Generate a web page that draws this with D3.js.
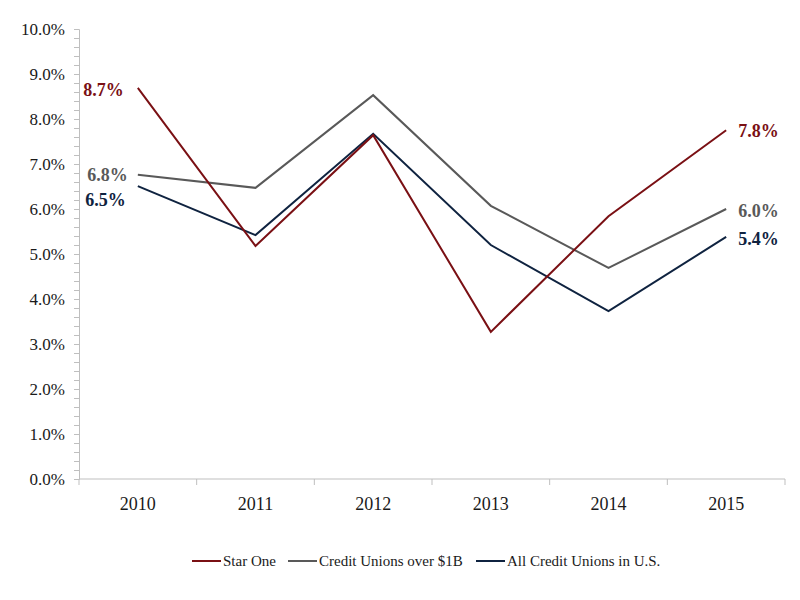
<!DOCTYPE html>
<html lang="en">
<head>
    <meta charset="UTF-8"/>
    <title>Star One vs Credit Unions</title>
    <script src="https://d3js.org/d3.v7.min.js"></script>
    <style>
        body { margin: 0; background: #fff; }
    </style>
</head>
<body>
<div id="chart"></div>
<script>
    // data
    const years = ["2010", "2011", "2012", "2013", "2014", "2015"];
    const starOne = [8.69, 5.18, 7.64, 3.27, 5.84, 7.75];
    const cuOver1B = [6.76, 6.47, 8.53, 6.07, 4.69, 6.0];
    const allCU = [6.51, 5.42, 7.67, 5.2, 3.73, 5.38];
    const seriesNames = ["Star One", "Credit Unions over $1B", "All Credit Unions in U.S."];
    const endLabels = [["8.7%", "7.8%"], ["6.8%", "6.0%"], ["6.5%", "5.4%"]];
    const yTicks = [0, 1, 2, 3, 4, 5, 6, 7, 8, 9, 10];

    const colors = ["#7a1014", "#595959", "#0f2340"];
    const font = "'Liberation Serif', serif";

    const width = 800, height = 600;
    const margin = {top: 29, right: 15, bottom: 121, left: 79};
    const gW = width - margin.left - margin.right;
    const gH = height - margin.top - margin.bottom;

    const svg = d3.select("#chart")
        .append("svg")
        .attr("width", width)
        .attr("height", height);

    const g = svg.append("g").attr("transform", `translate(${margin.left}, ${margin.top})`);

    const x = d3.scaleBand().domain(years).range([0, gW]);
    const y = d3.scaleLinear().domain([0, 10]).range([gH, 0]);

    // Y axis with minor ticks
    const yAxis = g.append("g")
        .call(d3.axisLeft(y).tickValues(d3.range(0, 10.01, 0.2)).tickSize(5).tickFormat(""));
    yAxis.selectAll("line").attr("stroke", "#bfbfbf");
    yAxis.select(".domain").attr("stroke", "#bfbfbf");

    g.append("g").selectAll("text")
        .data(yTicks)
        .join("text")
        .attr("x", -14)
        .attr("y", d => y(d))
        .attr("dy", "0.35em")
        .attr("text-anchor", "end")
        .style("font-family", font)
        .style("font-size", "17px")
        .style("fill", "#1a1a1a")
        .text(d => d.toFixed(1) + "%");

    // X axis, ticks at band edges
    const xAxis = g.append("g").attr("transform", `translate(0, ${gH})`);
    xAxis.append("line").attr("x1", 0).attr("x2", gW).attr("stroke", "#bfbfbf");
    xAxis.selectAll(".tk")
        .data(years.concat(["end"]))
        .join("line")
        .attr("class", "tk")
        .attr("x1", (d, i) => i * x.bandwidth())
        .attr("x2", (d, i) => i * x.bandwidth())
        .attr("y1", 0).attr("y2", 6)
        .attr("stroke", "#bfbfbf");
    xAxis.selectAll("text")
        .data(years)
        .join("text")
        .attr("x", d => x(d) + x.bandwidth() / 2)
        .attr("y", 31)
        .attr("text-anchor", "middle")
        .style("font-family", font)
        .style("font-size", "18px")
        .style("fill", "#1a1a1a")
        .text(d => d);

    const allSeries = [starOne, cuOver1B, allCU];
    const line = d3.line()
        .x((d, i) => x(years[i]) + x.bandwidth() / 2)
        .y(d => y(d));

    // draw back to front: gray, navy, red on top
    [1, 2, 0].forEach(k => {
        g.append("path")
            .datum(allSeries[k])
            .attr("fill", "none")
            .attr("stroke", colors[k])
            .attr("stroke-width", 2)
            .attr("stroke-linejoin", "miter")
            .attr("d", line);
    });

    // end labels
    const leftOffset = [[-14, 2], [-10, 0], [-12, 14]];
    const rightOffset = [[12, 0], [12, 2], [12, 2]];
    allSeries.forEach((s, k) => {
        const x0 = x(years[0]) + x.bandwidth() / 2;
        const x1 = x(years[years.length - 1]) + x.bandwidth() / 2;
        g.append("text")
            .attr("x", x0 + leftOffset[k][0])
            .attr("y", y(s[0]) + leftOffset[k][1])
            .attr("dy", "0.35em")
            .attr("text-anchor", "end")
            .style("font-family", font)
            .style("font-size", "18px")
            .style("font-weight", "bold")
            .style("fill", colors[k])
            .text(endLabels[k][0]);
        g.append("text")
            .attr("x", x1 + rightOffset[k][0])
            .attr("y", y(s[s.length - 1]) + rightOffset[k][1])
            .attr("dy", "0.35em")
            .attr("text-anchor", "start")
            .style("font-family", font)
            .style("font-size", "18px")
            .style("font-weight", "bold")
            .style("fill", colors[k])
            .text(endLabels[k][1]);
    });

    // legend
    const legendX = [192, 288, 476];
    const legend = svg.append("g").attr("transform", "translate(0, 561)");
    seriesNames.forEach((name, k) => {
        legend.append("line")
            .attr("x1", legendX[k]).attr("x2", legendX[k] + 29)
            .attr("stroke", colors[k]).attr("stroke-width", 2);
        legend.append("text")
            .attr("x", legendX[k] + 31)
            .attr("dy", "0.35em")
            .style("font-family", font)
            .style("font-size", "15px")
            .style("fill", "#1a1a1a")
            .text(name);
    });
</script>
</body>
</html>
